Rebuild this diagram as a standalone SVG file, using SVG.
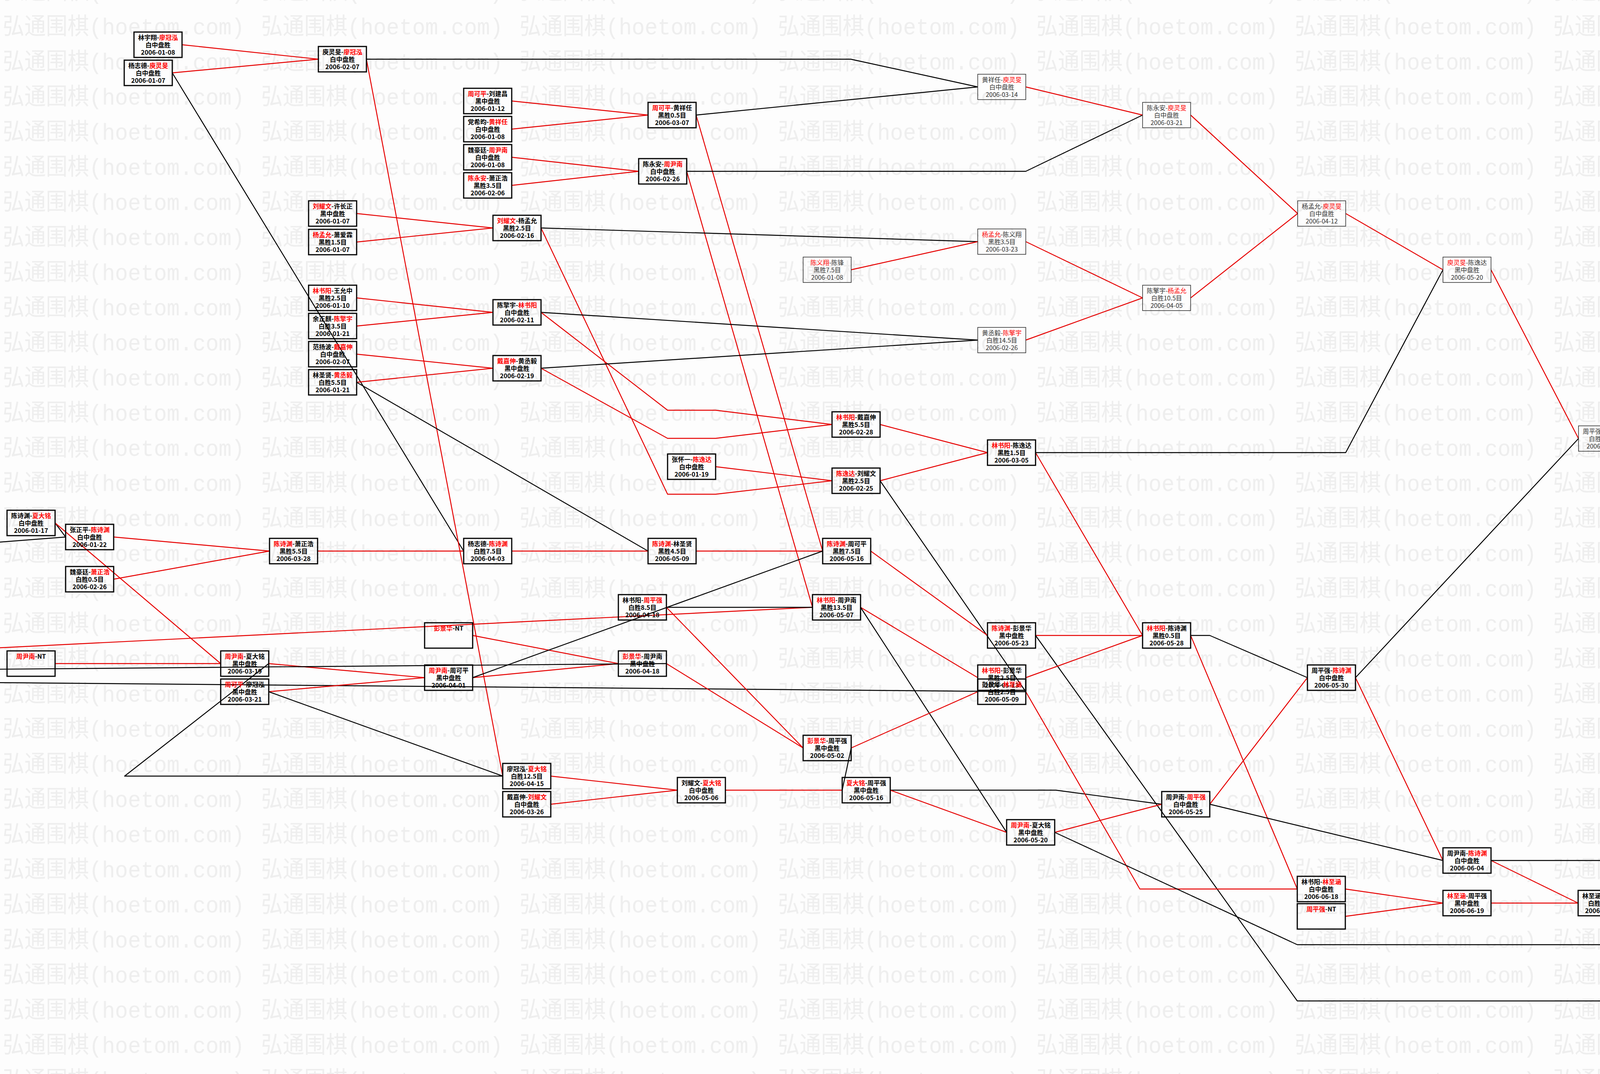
<svg xmlns="http://www.w3.org/2000/svg" width="5581" height="2749" viewBox="0 0 5581 2749">
<defs>
<style>
.n rect{fill:none;stroke:#000;stroke-width:3}
.n.t rect{stroke:#333;stroke-width:1.6}
.n text{font-family:"Noto Sans CJK SC","Noto Sans",sans-serif;font-size:16px;text-anchor:middle;fill:#000;font-weight:bold}
.n.t text{fill:#333;font-weight:normal}
.w{fill:#f00}
.r{fill:none;stroke:#e60000;stroke-width:2.4;stroke-linejoin:round}
.k{fill:none;stroke:#000;stroke-width:2.4;stroke-linejoin:round}
.wm{font-family:"Liberation Mono","Noto Sans CJK SC",monospace;font-size:60px;fill:#eeeeee}
</style>
<pattern id="wm" patternUnits="userSpaceOnUse" x="0" y="22" width="661.5" height="89.9"><text class="wm" x="7" y="66" textLength="619" lengthAdjust="spacingAndGlyphs">弘通围棋(hoetom.com)</text></pattern>
</defs>
<rect width="5581" height="2749" fill="#fdfdfd"/>
<rect width="5581" height="2749" fill="url(#wm)"/>
<g id="edges">
<polyline class="r" points="466,114.5 815,151.5"/>
<polyline class="r" points="441,186.5 815,151.5"/>
<polyline class="k" points="441,186.5 1187,1410.5"/>
<polyline class="r" points="938,151.5 1287,1986.5"/>
<polyline class="k" points="938,151.5 2178,151.5 2503,222.5"/>
<polyline class="r" points="913,546.5 1262,583.5"/>
<polyline class="r" points="913,619.5 1262,583.5"/>
<polyline class="r" points="913,762.5 1262,799.5"/>
<polyline class="r" points="913,834.5 1262,799.5"/>
<polyline class="r" points="913,906.5 1262,942.5"/>
<polyline class="r" points="913,978.5 1262,942.5"/>
<polyline class="k" points="913,978.5 1659,1410.5"/>
<polyline class="r" points="1310,258.5 1659,294.5"/>
<polyline class="r" points="1310,330.5 1659,294.5"/>
<polyline class="r" points="1310,402.5 1635,438.5"/>
<polyline class="r" points="1310,474.5 1635,438.5"/>
<polyline class="k" points="1782,294.5 2503,222.5"/>
<polyline class="r" points="1782,294.5 2106,1410.5"/>
<polyline class="k" points="1758,438.5 2626,438.5 2925,294.5"/>
<polyline class="r" points="1758,438.5 2080,1554.5"/>
<polyline class="k" points="1385,583.5 2503,618.5"/>
<polyline class="r" points="1385,583.5 1709,1265 1832,1265 2130,1230.5"/>
<polyline class="k" points="1385,799.5 2503,870.5"/>
<polyline class="r" points="1385,799.5 1709,1050 1832,1050 2130,1086.5"/>
<polyline class="k" points="1385,942.5 2503,870.5"/>
<polyline class="r" points="1385,942.5 1709,1122 1832,1122 2130,1086.5"/>
<polyline class="r" points="1832,1194.5 2130,1230.5"/>
<polyline class="r" points="2253,1086.5 2528,1158.5"/>
<polyline class="r" points="2253,1230.5 2528,1158.5"/>
<polyline class="k" points="2253,1230.5 2626,1770.5 -20,1747"/>
<polyline class="r" points="2651,1158.5 2925,1626.5"/>
<polyline class="k" points="2651,1158.5 3445,1158.5 3694,690.5"/>
<polyline class="k" points="-20,1389 168,1374.5"/>
<polyline class="k" points="141,1338.5 168,1374.5"/>
<polyline class="r" points="141,1338.5 565,1698.5"/>
<polyline class="r" points="291,1374.5 690,1410.5"/>
<polyline class="r" points="291,1482.5 690,1410.5"/>
<polyline class="r" points="813,1410.5 1187,1410.5"/>
<polyline class="r" points="1310,1410.5 1659,1410.5"/>
<polyline class="r" points="1782,1410.5 2106,1410.5"/>
<polyline class="r" points="141,1698.5 565,1698.5"/>
<polyline class="r" points="688,1698.5 1087,1734.5"/>
<polyline class="r" points="688,1770.5 1087,1734.5"/>
<polyline class="k" points="688,1698.5 319,1986.5 1287,1986.5"/>
<polyline class="k" points="688,1770.5 1287,1986.5"/>
<polyline class="r" points="1210,1626.5 1583,1698.5"/>
<polyline class="r" points="1210,1734.5 1583,1698.5"/>
<polyline class="k" points="1210,1734.5 2106,1410.5"/>
<polyline class="r" points="1410,1986.5 1734,2022.5"/>
<polyline class="r" points="1410,2058.5 1734,2022.5"/>
<polyline class="r" points="-20,1659 2080,1554.5"/>
<polyline class="k" points="1706,1554.5 2080,1554.5"/>
<polyline class="r" points="1706,1554.5 2056,1914.5"/>
<polyline class="k" points="1706,1698.5 -20,1713"/>
<polyline class="r" points="1706,1698.5 2056,1914.5"/>
<polyline class="r" points="2229,1410.5 2528,1626.5"/>
<polyline class="r" points="2203,1554.5 2503,1734.5"/>
<polyline class="k" points="2203,1554.5 2577,2130.5"/>
<polyline class="r" points="2179,1914.5 2503,1770.5"/>
<polyline class="k" points="2179,1914.5 2156,2022.5"/>
<polyline class="r" points="1857,2022.5 2156,2022.5"/>
<polyline class="k" points="2279,2022.5 2703,2022.5 2974,2058.5"/>
<polyline class="r" points="2279,2022.5 2577,2130.5"/>
<polyline class="r" points="2651,1626.5 2925,1626.5"/>
<polyline class="k" points="2651,1626.5 3321,2562 4485,2562 4660,2526.5"/>
<polyline class="r" points="2626,1734.5 2925,1626.5"/>
<polyline class="r" points="2626,1770.5 2918,2275.5 3321,2275.5"/>
<polyline class="k" points="3048,1626.5 3097,1626.5 3347,1734.5"/>
<polyline class="r" points="3048,1626.5 3321,2275.5"/>
<polyline class="r" points="2700,2130.5 2974,2058.5"/>
<polyline class="k" points="2700,2130.5 3321,2418 4163,2418 4362,2345.5"/>
<polyline class="r" points="3097,2058.5 3347,1734.5"/>
<polyline class="k" points="3097,2058.5 3694,2202.5"/>
<polyline class="k" points="3470,1734.5 4041,1122.5"/>
<polyline class="r" points="3470,1734.5 3694,2202.5"/>
<polyline class="r" points="3817,2202.5 4040,2311.5"/>
<polyline class="k" points="3817,2202.5 4163,2202.5 4363,1158.5"/>
<polyline class="r" points="3444,2275.5 3694,2311.5"/>
<polyline class="r" points="3444,2345.5 3694,2311.5"/>
<polyline class="r" points="3817,2311.5 4040,2311.5"/>
<polyline class="r" points="4163,2311.5 4362,2345.5"/>
<polyline class="k" points="4163,2311.5 4364,2634.5 4932,2634.5"/>
<polyline class="r" points="4485,2345.5 4660,1266.5"/>
<polyline class="k" points="4485,2345.5 4932,2634.5"/>
<polyline class="r" points="4485,2490.5 4660,2526.5"/>
<polyline class="r" points="4783,2526.5 4932,2634.5"/>
<polyline class="k" points="4783,2526.5 4932,1338.5"/>
<polyline class="k" points="5055,2634.5 5104,1374.5"/>
<polyline class="r" points="5055,2634.5 5103,2706 5226,2706 5276,1410.5"/>
<polyline class="r" points="2626,222.5 2925,294.5"/>
<polyline class="r" points="3048,294.5 3322,546.5"/>
<polyline class="r" points="2179,690.5 2503,618.5"/>
<polyline class="r" points="2626,618.5 2925,762.5"/>
<polyline class="r" points="2626,870.5 2925,762.5"/>
<polyline class="r" points="3048,762.5 3322,546.5"/>
<polyline class="r" points="3445,546.5 3694,690.5"/>
<polyline class="r" points="3817,690.5 4041,1122.5"/>
<polyline class="r" points="4164,1122.5 4363,1158.5"/>
<polyline class="r" points="4486,1158.5 4660,1266.5"/>
<polyline class="r" points="4783,1266.5 4932,1338.5"/>
<polyline class="r" points="5055,1338.5 5104,1374.5"/>
<polyline class="r" points="5227,1374.5 5276,1410.5"/>
<polyline class="r" points="5399,1410.5 5448,1374.5"/>
<polyline class="r" points="5399,43.5 5448,1374.5"/>
</g>
<g id="n1" class="n" transform="translate(343,82)"><rect width="123" height="65"/><text x="61.5" y="20">林宇翔-<tspan class="w">廖冠泓</tspan></text><text x="61.5" y="39">白中盘胜</text><text x="61.5" y="58">2006-01-08</text></g>
<g id="n2" class="n" transform="translate(318,154)"><rect width="123" height="65"/><text x="61.5" y="20">杨志德-<tspan class="w">庾灵旻</tspan></text><text x="61.5" y="39">白中盘胜</text><text x="61.5" y="58">2006-01-07</text></g>
<g id="n3" class="n" transform="translate(815,119)"><rect width="123" height="65"/><text x="61.5" y="20">庾灵旻-<tspan class="w">廖冠泓</tspan></text><text x="61.5" y="39">白中盘胜</text><text x="61.5" y="58">2006-02-07</text></g>
<g id="n4" class="n" transform="translate(790,514)"><rect width="123" height="65"/><text x="61.5" y="20"><tspan class="w">刘耀文</tspan>-许长正</text><text x="61.5" y="39">黑中盘胜</text><text x="61.5" y="58">2006-01-07</text></g>
<g id="n5" class="n" transform="translate(790,587)"><rect width="123" height="65"/><text x="61.5" y="20"><tspan class="w">杨孟允</tspan>-萧爱霖</text><text x="61.5" y="39">黑胜1.5目</text><text x="61.5" y="58">2006-01-07</text></g>
<g id="n6" class="n" transform="translate(790,730)"><rect width="123" height="65"/><text x="61.5" y="20"><tspan class="w">林书阳</tspan>-王允中</text><text x="61.5" y="39">黑胜2.5目</text><text x="61.5" y="58">2006-01-10</text></g>
<g id="n7" class="n" transform="translate(790,802)"><rect width="123" height="65"/><text x="61.5" y="20">余正麒-<tspan class="w">陈擎宇</tspan></text><text x="61.5" y="39">白胜3.5目</text><text x="61.5" y="58">2006-01-21</text></g>
<g id="n8" class="n" transform="translate(790,874)"><rect width="123" height="65"/><text x="61.5" y="20">范扬波-<tspan class="w">戴嘉伸</tspan></text><text x="61.5" y="39">白中盘胜</text><text x="61.5" y="58">2006-02-07</text></g>
<g id="n9" class="n" transform="translate(790,946)"><rect width="123" height="65"/><text x="61.5" y="20">林圣贤-<tspan class="w">黄丞毅</tspan></text><text x="61.5" y="39">白胜5.5目</text><text x="61.5" y="58">2006-01-21</text></g>
<g id="n10" class="n" transform="translate(1187,226)"><rect width="123" height="65"/><text x="61.5" y="20"><tspan class="w">周可平</tspan>-刘建昌</text><text x="61.5" y="39">黑中盘胜</text><text x="61.5" y="58">2006-01-12</text></g>
<g id="n11" class="n" transform="translate(1187,298)"><rect width="123" height="65"/><text x="61.5" y="20">党希昀-<tspan class="w">黄祥任</tspan></text><text x="61.5" y="39">白中盘胜</text><text x="61.5" y="58">2006-01-08</text></g>
<g id="n12" class="n" transform="translate(1187,370)"><rect width="123" height="65"/><text x="61.5" y="20">魏豪廷-<tspan class="w">周尹南</tspan></text><text x="61.5" y="39">白中盘胜</text><text x="61.5" y="58">2006-01-08</text></g>
<g id="n13" class="n" transform="translate(1187,442)"><rect width="123" height="65"/><text x="61.5" y="20"><tspan class="w">陈永安</tspan>-萧正浩</text><text x="61.5" y="39">黑胜3.5目</text><text x="61.5" y="58">2006-02-06</text></g>
<g id="n14" class="n" transform="translate(1659,262)"><rect width="123" height="65"/><text x="61.5" y="20"><tspan class="w">周可平</tspan>-黄祥任</text><text x="61.5" y="39">黑胜0.5目</text><text x="61.5" y="58">2006-03-07</text></g>
<g id="n15" class="n" transform="translate(1635,406)"><rect width="123" height="65"/><text x="61.5" y="20">陈永安-<tspan class="w">周尹南</tspan></text><text x="61.5" y="39">白中盘胜</text><text x="61.5" y="58">2006-02-26</text></g>
<g id="n16" class="n" transform="translate(1262,551)"><rect width="123" height="65"/><text x="61.5" y="20"><tspan class="w">刘耀文</tspan>-杨孟允</text><text x="61.5" y="39">黑胜2.5目</text><text x="61.5" y="58">2006-02-16</text></g>
<g id="n17" class="n" transform="translate(1262,767)"><rect width="123" height="65"/><text x="61.5" y="20">陈擎宇-<tspan class="w">林书阳</tspan></text><text x="61.5" y="39">白中盘胜</text><text x="61.5" y="58">2006-02-11</text></g>
<g id="n18" class="n" transform="translate(1262,910)"><rect width="123" height="65"/><text x="61.5" y="20"><tspan class="w">戴嘉伸</tspan>-黄丞毅</text><text x="61.5" y="39">黑中盘胜</text><text x="61.5" y="58">2006-02-19</text></g>
<g id="n19" class="n" transform="translate(1709,1162)"><rect width="123" height="65"/><text x="61.5" y="20">张怀一-<tspan class="w">陈逸达</tspan></text><text x="61.5" y="39">白中盘胜</text><text x="61.5" y="58">2006-01-19</text></g>
<g id="n20" class="n" transform="translate(2130,1054)"><rect width="123" height="65"/><text x="61.5" y="20"><tspan class="w">林书阳</tspan>-戴嘉伸</text><text x="61.5" y="39">黑胜5.5目</text><text x="61.5" y="58">2006-02-28</text></g>
<g id="n21" class="n" transform="translate(2130,1198)"><rect width="123" height="65"/><text x="61.5" y="20"><tspan class="w">陈逸达</tspan>-刘耀文</text><text x="61.5" y="39">黑胜2.5目</text><text x="61.5" y="58">2006-02-25</text></g>
<g id="n22" class="n" transform="translate(2528,1126)"><rect width="123" height="65"/><text x="61.5" y="20"><tspan class="w">林书阳</tspan>-陈逸达</text><text x="61.5" y="39">黑胜1.5目</text><text x="61.5" y="58">2006-03-05</text></g>
<g id="n23" class="n" transform="translate(1187,1378)"><rect width="123" height="65"/><text x="61.5" y="20">杨志德-<tspan class="w">陈诗渊</tspan></text><text x="61.5" y="39">白胜7.5目</text><text x="61.5" y="58">2006-04-03</text></g>
<g id="n24" class="n" transform="translate(1659,1378)"><rect width="123" height="65"/><text x="61.5" y="20"><tspan class="w">陈诗渊</tspan>-林圣贤</text><text x="61.5" y="39">黑胜4.5目</text><text x="61.5" y="58">2006-05-09</text></g>
<g id="n25" class="n" transform="translate(18,1306)"><rect width="123" height="65"/><text x="61.5" y="20">陈诗渊-<tspan class="w">夏大铭</tspan></text><text x="61.5" y="39">白中盘胜</text><text x="61.5" y="58">2006-01-17</text></g>
<g id="n26" class="n" transform="translate(168,1342)"><rect width="123" height="65"/><text x="61.5" y="20">张正平-<tspan class="w">陈诗渊</tspan></text><text x="61.5" y="39">白中盘胜</text><text x="61.5" y="58">2006-01-22</text></g>
<g id="n27" class="n" transform="translate(168,1450)"><rect width="123" height="65"/><text x="61.5" y="20">魏豪廷-<tspan class="w">萧正浩</tspan></text><text x="61.5" y="39">白胜0.5目</text><text x="61.5" y="58">2006-02-26</text></g>
<g id="n28" class="n" transform="translate(690,1378)"><rect width="123" height="65"/><text x="61.5" y="20"><tspan class="w">陈诗渊</tspan>-萧正浩</text><text x="61.5" y="39">黑胜5.5目</text><text x="61.5" y="58">2006-03-28</text></g>
<g id="n29" class="n" transform="translate(18,1666)"><rect width="123" height="65"/><text x="61.5" y="20"><tspan class="w">周尹南</tspan>-NT</text></g>
<g id="n30" class="n" transform="translate(565,1666)"><rect width="123" height="65"/><text x="61.5" y="20"><tspan class="w">周尹南</tspan>-夏大铭</text><text x="61.5" y="39">黑中盘胜</text><text x="61.5" y="58">2006-03-19</text></g>
<g id="n31" class="n" transform="translate(565,1738)"><rect width="123" height="65"/><text x="61.5" y="20"><tspan class="w">周可平</tspan>-廖冠泓</text><text x="61.5" y="39">黑中盘胜</text><text x="61.5" y="58">2006-03-21</text></g>
<g id="n32" class="n" transform="translate(1087,1594)"><rect width="123" height="65"/><text x="61.5" y="20"><tspan class="w">彭景华</tspan>-NT</text></g>
<g id="n33" class="n" transform="translate(1087,1702)"><rect width="123" height="65"/><text x="61.5" y="20"><tspan class="w">周尹南</tspan>-周可平</text><text x="61.5" y="39">黑中盘胜</text><text x="61.5" y="58">2006-04-01</text></g>
<g id="n34" class="n" transform="translate(1287,1954)"><rect width="123" height="65"/><text x="61.5" y="20">廖冠泓-<tspan class="w">夏大铭</tspan></text><text x="61.5" y="39">白胜12.5目</text><text x="61.5" y="58">2006-04-15</text></g>
<g id="n35" class="n" transform="translate(1287,2026)"><rect width="123" height="65"/><text x="61.5" y="20">戴嘉伸-<tspan class="w">刘耀文</tspan></text><text x="61.5" y="39">白中盘胜</text><text x="61.5" y="58">2006-03-26</text></g>
<g id="n36" class="n" transform="translate(2106,1378)"><rect width="123" height="65"/><text x="61.5" y="20"><tspan class="w">陈诗渊</tspan>-周可平</text><text x="61.5" y="39">黑胜7.5目</text><text x="61.5" y="58">2006-05-16</text></g>
<g id="n37" class="n" transform="translate(1583,1522)"><rect width="123" height="65"/><text x="61.5" y="20">林书阳-<tspan class="w">周平强</tspan></text><text x="61.5" y="39">白胜8.5目</text><text x="61.5" y="58">2006-04-18</text></g>
<g id="n38" class="n" transform="translate(2080,1522)"><rect width="123" height="65"/><text x="61.5" y="20"><tspan class="w">林书阳</tspan>-周尹南</text><text x="61.5" y="39">黑胜13.5目</text><text x="61.5" y="58">2006-05-07</text></g>
<g id="n39" class="n" transform="translate(1583,1666)"><rect width="123" height="65"/><text x="61.5" y="20"><tspan class="w">彭景华</tspan>-周尹南</text><text x="61.5" y="39">黑中盘胜</text><text x="61.5" y="58">2006-04-18</text></g>
<g id="n40" class="n" transform="translate(2056,1882)"><rect width="123" height="65"/><text x="61.5" y="20"><tspan class="w">彭景华</tspan>-周平强</text><text x="61.5" y="39">黑中盘胜</text><text x="61.5" y="58">2006-05-02</text></g>
<g id="n41" class="n" transform="translate(1734,1990)"><rect width="123" height="65"/><text x="61.5" y="20">刘耀文-<tspan class="w">夏大铭</tspan></text><text x="61.5" y="39">白中盘胜</text><text x="61.5" y="58">2006-05-06</text></g>
<g id="n42" class="n" transform="translate(2156,1990)"><rect width="123" height="65"/><text x="61.5" y="20"><tspan class="w">夏大铭</tspan>-周平强</text><text x="61.5" y="39">黑中盘胜</text><text x="61.5" y="58">2006-05-16</text></g>
<g id="n43" class="n" transform="translate(2528,1594)"><rect width="123" height="65"/><text x="61.5" y="20"><tspan class="w">陈诗渊</tspan>-彭景华</text><text x="61.5" y="39">黑中盘胜</text><text x="61.5" y="58">2006-05-23</text></g>
<g id="n44" class="n" transform="translate(2503,1702)"><rect width="123" height="65"/><text x="61.5" y="20"><tspan class="w">林书阳</tspan>-彭景华</text><text x="61.5" y="39">黑胜2.5目</text><text x="61.5" y="58">2006-05-13</text></g>
<g id="n45" class="n" transform="translate(2503,1738)"><rect width="123" height="65"/><text x="61.5" y="20">彭景华-<tspan class="w">林至涵</tspan></text><text x="61.5" y="39">白胜2.5目</text><text x="61.5" y="58">2006-05-09</text></g>
<g id="n46" class="n" transform="translate(2925,1594)"><rect width="123" height="65"/><text x="61.5" y="20"><tspan class="w">林书阳</tspan>-陈诗渊</text><text x="61.5" y="39">黑胜0.5目</text><text x="61.5" y="58">2006-05-28</text></g>
<g id="n47" class="n" transform="translate(2974,2026)"><rect width="123" height="65"/><text x="61.5" y="20">周尹南-<tspan class="w">周平强</tspan></text><text x="61.5" y="39">白中盘胜</text><text x="61.5" y="58">2006-05-25</text></g>
<g id="n48" class="n" transform="translate(2577,2098)"><rect width="123" height="65"/><text x="61.5" y="20"><tspan class="w">周尹南</tspan>-夏大铭</text><text x="61.5" y="39">黑中盘胜</text><text x="61.5" y="58">2006-05-20</text></g>
<g id="n49" class="n" transform="translate(3347,1702)"><rect width="123" height="65"/><text x="61.5" y="20">周平强-<tspan class="w">陈诗渊</tspan></text><text x="61.5" y="39">白中盘胜</text><text x="61.5" y="58">2006-05-30</text></g>
<g id="n50" class="n" transform="translate(3694,2170)"><rect width="123" height="65"/><text x="61.5" y="20">周尹南-<tspan class="w">陈诗渊</tspan></text><text x="61.5" y="39">白中盘胜</text><text x="61.5" y="58">2006-06-04</text></g>
<g id="n51" class="n" transform="translate(3321,2243)"><rect width="123" height="65"/><text x="61.5" y="20">林书阳-<tspan class="w">林至涵</tspan></text><text x="61.5" y="39">白中盘胜</text><text x="61.5" y="58">2006-06-18</text></g>
<g id="n52" class="n" transform="translate(3321,2313)"><rect width="123" height="65"/><text x="61.5" y="20"><tspan class="w">周平强</tspan>-NT</text></g>
<g id="n53" class="n" transform="translate(3694,2279)"><rect width="123" height="65"/><text x="61.5" y="20"><tspan class="w">林至涵</tspan>-周平强</text><text x="61.5" y="39">黑中盘胜</text><text x="61.5" y="58">2006-06-19</text></g>
<g id="n54" class="n" transform="translate(4040,2279)"><rect width="123" height="65"/><text x="61.5" y="20">林至涵-<tspan class="w">陈诗渊</tspan></text><text x="61.5" y="39">白胜4.5目</text><text x="61.5" y="58">2006-06-20</text></g>
<g id="n55" class="n t" transform="translate(4362,2313)"><rect width="123" height="65"/><text x="61.5" y="20"><tspan class="w">陈诗渊</tspan>-夏大铭</text><text x="61.5" y="39">黑中盘胜</text><text x="61.5" y="58">2006-06-27</text></g>
<g id="n56" class="n" transform="translate(4362,2458)"><rect width="123" height="65"/><text x="61.5" y="20"><tspan class="w">夏大铭</tspan>-NT</text></g>
<g id="n57" class="n" transform="translate(4660,2494)"><rect width="123" height="65"/><text x="61.5" y="20"><tspan class="w">夏大铭</tspan>-彭景华</text><text x="61.5" y="39">黑胜1.5目</text><text x="61.5" y="58">2006-05-30</text></g>
<g id="n58" class="n" transform="translate(4932,2602)"><rect width="123" height="65"/><text x="61.5" y="20">夏大铭-<tspan class="w">林至涵</tspan></text><text x="61.5" y="39">白中盘胜</text><text x="61.5" y="58">2006-07-15</text></g>
<g id="n59" class="n t" transform="translate(2503,190)"><rect width="123" height="65"/><text x="61.5" y="20">黄祥任-<tspan class="w">庾灵旻</tspan></text><text x="61.5" y="39">白中盘胜</text><text x="61.5" y="58">2006-03-14</text></g>
<g id="n60" class="n t" transform="translate(2925,262)"><rect width="123" height="65"/><text x="61.5" y="20">陈永安-<tspan class="w">庾灵旻</tspan></text><text x="61.5" y="39">白中盘胜</text><text x="61.5" y="58">2006-03-21</text></g>
<g id="n61" class="n t" transform="translate(2503,586)"><rect width="123" height="65"/><text x="61.5" y="20"><tspan class="w">杨孟允</tspan>-陈义翔</text><text x="61.5" y="39">黑胜3.5目</text><text x="61.5" y="58">2006-03-23</text></g>
<g id="n62" class="n t" transform="translate(2056,658)"><rect width="123" height="65"/><text x="61.5" y="20"><tspan class="w">陈义翔</tspan>-陈锋</text><text x="61.5" y="39">黑胜7.5目</text><text x="61.5" y="58">2006-01-08</text></g>
<g id="n63" class="n t" transform="translate(2503,838)"><rect width="123" height="65"/><text x="61.5" y="20">黄丞毅-<tspan class="w">陈擎宇</tspan></text><text x="61.5" y="39">白胜14.5目</text><text x="61.5" y="58">2006-02-26</text></g>
<g id="n64" class="n t" transform="translate(2925,730)"><rect width="123" height="65"/><text x="61.5" y="20">陈擎宇-<tspan class="w">杨孟允</tspan></text><text x="61.5" y="39">白胜10.5目</text><text x="61.5" y="58">2006-04-05</text></g>
<g id="n65" class="n t" transform="translate(3322,514)"><rect width="123" height="65"/><text x="61.5" y="20">杨孟允-<tspan class="w">庾灵旻</tspan></text><text x="61.5" y="39">白中盘胜</text><text x="61.5" y="58">2006-04-12</text></g>
<g id="n66" class="n t" transform="translate(3694,658)"><rect width="123" height="65"/><text x="61.5" y="20"><tspan class="w">庾灵旻</tspan>-陈逸达</text><text x="61.5" y="39">黑中盘胜</text><text x="61.5" y="58">2006-05-20</text></g>
<g id="n67" class="n t" transform="translate(4041,1090)"><rect width="123" height="65"/><text x="61.5" y="20">周平强-<tspan class="w">庾灵旻</tspan></text><text x="61.5" y="39">白胜6.5目</text><text x="61.5" y="58">2006-06-08</text></g>
<g id="n68" class="n t" transform="translate(4363,1126)"><rect width="123" height="65"/><text x="61.5" y="20"><tspan class="w">庾灵旻</tspan>-周尹南</text><text x="61.5" y="39">黑胜9.5目</text><text x="61.5" y="58">2006-06-10</text></g>
<g id="n69" class="n t" transform="translate(4660,1234)"><rect width="123" height="65"/><text x="61.5" y="20"><tspan class="w">庾灵旻</tspan>-陈诗渊</text><text x="61.5" y="39">黑胜1.5目</text><text x="61.5" y="58">2006-07-01</text></g>
<g id="n70" class="n t" transform="translate(4932,1306)"><rect width="123" height="65"/><text x="61.5" y="20">彭景华-<tspan class="w">庾灵旻</tspan></text><text x="61.5" y="39">白中盘胜</text><text x="61.5" y="58">2006-07-16</text></g>
<g id="n71" class="n t" transform="translate(5104,1342)"><rect width="123" height="65"/><text x="61.5" y="20">夏大铭-<tspan class="w">庾灵旻</tspan></text><text x="61.5" y="39">白中盘胜</text><text x="61.5" y="58">2006-07-18</text></g>
<g id="n72" class="n t" transform="translate(5276,1378)"><rect width="123" height="65"/><text x="61.5" y="20"><tspan class="w">庾灵旻</tspan>-林至涵</text><text x="61.5" y="39">黑胜0.5目</text><text x="61.5" y="58">2006-07-25</text></g>
<g id="n73" class="n t" transform="translate(5448,1342)"><rect width="123" height="65"/><text x="61.5" y="20"><tspan class="w">周俊勋</tspan>-庾灵旻</text><text x="61.5" y="39">黑中盘胜</text><text x="61.5" y="58">2006-09-05</text></g>
<g id="n74" class="n t" transform="translate(5276,11)"><rect width="123" height="65"/><text x="61.5" y="20"><tspan class="w">周俊勋</tspan>-NT</text></g>
</svg>
